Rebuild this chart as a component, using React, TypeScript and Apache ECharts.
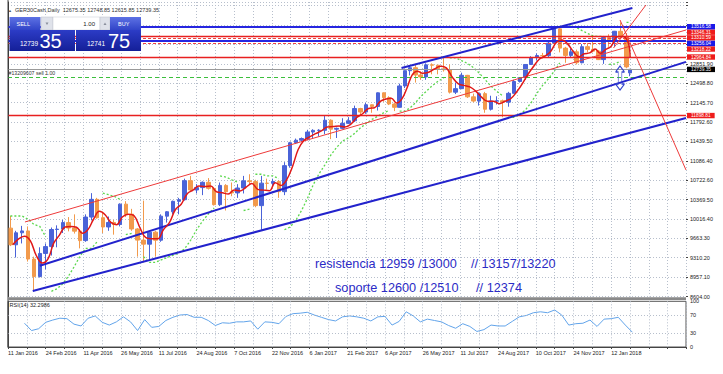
import React, { useEffect, useRef } from 'react';
import * as echarts from 'echarts';

// ---------- data ----------
const dateLabels = ['11 Jan 2016', '24 Feb 2016', '11 Apr 2016', '26 May 2016', '11 Jul 2016', '24 Aug 2016', '7 Oct 2016', '22 Nov 2016', '6 Jan 2017', '21 Feb 2017', '6 Apr 2017', '26 May 2017', '11 Jul 2017', '24 Aug 2017', '10 Oct 2017', '24 Nov 2017', '12 Jan 2018'];
const labelDates = ['2016-01-11', '2016-02-24', '2016-04-11', '2016-05-26', '2016-07-11', '2016-08-24', '2016-10-07', '2016-11-22', '2017-01-06', '2017-02-21', '2017-04-06', '2017-05-26', '2017-07-11', '2017-08-24', '2017-10-10', '2017-11-24', '2018-01-12'];
const barsPerLabel = 32;

const priceTickLabels = ['8604.00', '8957.10', '9310.20', '9663.30', '10016.40', '10369.50', '10722.60', '11086.40', '11439.50', '11792.60', '12145.70', '12498.80', '12851.90'];
const priceMin = 8604;
const priceStep = 353.1;
const priceMax = 13966.8;

const firstWeekMonday = '2016-01-11';
const lastBarDate = '2018-02-05';

const weekOpen = [9849, 9545, 9764, 9798, 9286, 8967, 9388, 9513, 9824, 9831, 9950, 9851, 9794, 9622, 10051, 10373, 10039, 9870, 9952, 9916, 10286, 10103, 9834, 9631, 9557, 9776, 9629, 10067, 10147, 10337, 10367, 10713, 10544, 10587, 10684, 10573, 10276, 10627, 10511, 10490, 10580, 10710, 10696, 10259, 10668, 10664, 10700, 10513, 10987, 11404, 11450, 11481, 11599, 11629, 11630, 11814, 11651, 11666, 11757, 11804, 12027, 11963, 12095, 12064, 12313, 12225, 12109, 12049, 12438, 12716, 12770, 12638, 12602, 12823, 12816, 12753, 12733, 12325, 12389, 12631, 12240, 12163, 12298, 12014, 12165, 12168, 12143, 12304, 12519, 12592, 12829, 12955, 12992, 12991, 13217, 13478, 13127, 12994, 13060, 12861, 13153, 13104, 13072, 12918, 13319, 13245, 13434, 13340, 12675.35];
const weekHigh = [10070, 9800, 9890, 9880, 9330, 9500, 9570, 9860, 9900, 10000, 10050, 10100, 9830, 10100, 10486, 10400, 10150, 10060, 10000, 10300, 10340, 10200, 9850, 10350, 9800, 9800, 10100, 10160, 10350, 10400, 10750, 10800, 10650, 10700, 10760, 10600, 10680, 10650, 10680, 10650, 10800, 10830, 10730, 10800, 10750, 10750, 10720, 11050, 11420, 11480, 11500, 11640, 11650, 11650, 11890, 11830, 11680, 11850, 11870, 12080, 12040, 12130, 12100, 12320, 12320, 12250, 12130, 12480, 12720, 12800, 12841, 12700, 12850, 12850, 12820, 12951, 12830, 12500, 12680, 12640, 12300, 12320, 12330, 12260, 12250, 12190, 12330, 12550, 12600, 12830, 12980, 13030, 13040, 13240, 13480, 13525, 13150, 13120, 13100, 13200, 13220, 13340, 13090, 13320, 13380, 13440, 13596, 13400, 12748.85];
const weekLow = [9522, 9314, 9570, 9240, 8699, 8950, 9100, 9350, 9500, 9760, 9790, 9750, 9480, 9600, 9990, 10020, 9760, 9800, 9730, 9880, 10050, 9800, 9330, 9225, 9270, 9330, 9600, 9950, 10100, 10100, 10350, 10520, 10480, 10450, 10550, 10260, 10250, 10170, 10430, 10400, 10480, 10650, 10230, 9820, 10550, 10620, 10400, 10450, 10950, 11380, 11420, 11450, 11480, 11520, 11560, 11470, 11490, 11650, 11750, 11780, 11900, 11930, 11950, 11990, 12150, 12090, 11980, 12040, 12400, 12630, 12500, 12550, 12550, 12650, 12650, 12700, 12300, 12290, 12380, 12220, 12140, 12080, 11950, 11990, 12100, 11868, 12060, 12300, 12500, 12550, 12820, 12900, 12940, 12950, 13200, 13050, 12860, 12950, 12830, 12850, 13050, 13050, 12910, 12840, 13150, 13150, 13300, 12760, 12615.85];
const weekClose = [9545, 9764, 9798, 9286, 8967, 9388, 9513, 9824, 9831, 9950, 9851, 9794, 9622, 10051, 10373, 10039, 9870, 9952, 9916, 10286, 10103, 9834, 9631, 9557, 9776, 9629, 10067, 10147, 10337, 10367, 10713, 10544, 10587, 10684, 10573, 10276, 10627, 10511, 10490, 10580, 10710, 10696, 10259, 10668, 10664, 10700, 10513, 10987, 11404, 11450, 11481, 11599, 11629, 11630, 11814, 11651, 11666, 11757, 11804, 12027, 11963, 12095, 12064, 12313, 12225, 12109, 12049, 12438, 12716, 12770, 12638, 12602, 12823, 12816, 12753, 12733, 12325, 12389, 12631, 12240, 12163, 12298, 12014, 12165, 12168, 12143, 12304, 12519, 12592, 12829, 12955, 12992, 12991, 13217, 13478, 13127, 12994, 13060, 12861, 13153, 13104, 13072, 12918, 13319, 13245, 13434, 13340, 12785, 12739.35];

const rsiStartBar = 14;
const rsiStep = 6;
const rsiValues = [52, 36, 40, 54, 59, 63, 62, 50, 46, 63, 68, 54, 48, 55, 66, 55, 36, 60, 43, 45, 58, 65, 70, 71, 65, 65, 58, 47, 53, 52, 55, 55, 57, 39, 55, 54, 51, 67, 73, 74, 76, 70, 65, 60, 57, 66, 68, 66, 63, 57, 66, 67, 48, 56, 77, 68, 55, 61, 58, 55, 47, 41, 51, 45, 34, 38, 48, 46, 46, 56, 66, 69, 75, 77, 75, 81, 70, 48, 51, 52, 59, 45, 61, 62, 65, 48, 32.3];

const blueLevels = [13516.58, 13256.04];
const redSolidLevels = [13346.31, 12964.84, 11898.81];
const redDashedLevels = [13310.59, 13218.22];
const bidPrice = 12739.35;
const orderPrice = 12590;
const bidAsk = { bid: '12739', bidPips: '35', ask: '12741', askPips: '75', lot: '1.00' };
const titleText = 'GER30Cash,Daily  12675.35 12748.85 12615.85 12739.35';
const rsiText = 'RSI(14) 32.2986';
const orderText = '#13209607 sell 1.00';
const resistText = 'resistencia 12959 /13000    // 13157/13220';
const supportText = 'soporte 12600 /12510     // 12374';

// trend lines as [bar, price] pairs
const blueTrendLines = [
  [[334, 12765], [530, 13858]],
  [[27, 9165], [575.5, 12876]],
  [[21, 8704], [575.5, 11855]],
];
const redTrendLines = [
  [[14.4, 9961], [575.5, 13457]],
  [[519.5, 13639], [575.5, 10908]],
  [[514, 13129], [541.5, 13912]],
];
const arrowAt = [519.5, 12583];

// ---------- helpers ----------
const DAY = 86400000;
const toUTC = (s: string) => { const [y, m, d] = s.split('-').map(Number); return Date.UTC(y, m - 1, d); };
const weekdays = (a: number, b: number) => { let n = 0; for (let t = a; t < b; t += DAY) { const wd = new Date(t).getUTCDay(); if (wd !== 0 && wd !== 6) n++; } return n; };
const anchors = labelDates.map(toUTC);
const barOf = (t: number) => {
  const last = anchors.length - 1;
  if (t >= anchors[last]) return barsPerLabel * last + weekdays(anchors[last], t);
  let k = 0;
  while (k < last - 1 && t >= anchors[k + 1]) k++;
  return barsPerLabel * k + (barsPerLabel * weekdays(anchors[k], t)) / weekdays(anchors[k], anchors[k + 1]);
};

function psar(h: number[], l: number[], step = 0.04, maxAf = 0.2) {
  const out: { v: number; up: boolean }[] = [];
  let up = false; let af = step; let ep = l[0]; let sar = h[0];
  out.push({ v: sar, up });
  for (let i = 1; i < h.length; i++) {
    sar = sar + af * (ep - sar);
    if (up) {
      sar = Math.min(sar, l[i - 1], i > 1 ? l[i - 2] : l[i - 1]);
      if (l[i] < sar) { up = false; sar = ep; ep = l[i]; af = step; }
      else if (h[i] > ep) { ep = h[i]; af = Math.min(af + step, maxAf); }
    } else {
      sar = Math.max(sar, h[i - 1], i > 1 ? h[i - 2] : h[i - 1]);
      if (h[i] > sar) { up = true; sar = ep; ep = h[i]; af = step; }
      else if (l[i] < ep) { ep = l[i]; af = Math.min(af + step, maxAf); }
    }
    out.push({ v: sar, up });
  }
  return out;
}

const FONT = '"Liberation Sans", Arial, sans-serif';

export default function App() {
  const ref = useRef<HTMLDivElement>(null);
  useEffect(() => {
    if (!ref.current) return;
    const chart = echarts.init(ref.current, undefined, { renderer: 'svg' });

    const mon0 = toUTC(firstWeekMonday);
    const lastT = toUTC(lastBarDate);
    const xC = weekOpen.map((_, w) => barOf(Math.min(mon0 + (7 * w + 2) * DAY, lastT)));
    const xF = weekOpen.map((_, w) => barOf(Math.min(mon0 + (7 * w + 4) * DAY, lastT)));

    const candleData = weekOpen.map((o, w) => [xC[w], o, weekClose[w], weekLow[w], weekHigh[w]]);
    const maData = weekClose.map((_, w) => {
      const s = weekClose.slice(Math.max(0, w - 2), w + 1);
      return [xF[w], s.reduce((a, b) => a + b, 0) / s.length];
    });
    const sar = psar(weekHigh, weekLow);
    const psarData: any[] = [];
    sar.forEach((p, i) => {
      if (i > 0 && p.up !== sar[i - 1].up) psarData.push([(xC[i - 1] + xC[i]) / 2, null]);
      psarData.push([xC[i], p.v]);
    });
    const rsiData = rsiValues.map((v, i) => [rsiStartBar + rsiStep * i, v]);

    // px shifts so the stacked price tags on the right axis do not cover each other
    const tagShift: Record<string, number> = { '13346.31': -3.9, '13310.59': -0.2, '13256.04': 2.4, '13218.22': 5.9 };

    const gridLine = { color: '#b7bfcc', type: [1, 2], width: 1 };
    const lab = (v: number, bg: string) => ({
      show: true, position: 'end', formatter: v.toFixed(2), backgroundColor: bg, color: '#fff',
      fontSize: 4.8, fontFamily: FONT, padding: [0.2, 4, 0.2, 4], lineHeight: 5, distance: 1,
      offset: [0, tagShift[v.toFixed(2)] || 0],
    });
    const hLine = (v: number, color: string, width: number, type: any, bg: string | null) => ({
      yAxis: v, lineStyle: { color, width, type },
      label: bg ? lab(v, bg) : { show: false },
    });
    const seg = (pair: number[][], color: string, width: number) => [
      { coord: pair[0], lineStyle: { color, width, type: 'solid' }, label: { show: false } },
      { coord: pair[1], lineStyle: { color, width, type: 'solid' }, label: { show: false } },
    ];

    const markLines: any[] = [
      ...redDashedLevels.map((v) => hLine(v, '#ee4444', 1, [3, 2], '#ee1c1c')),
      ...redSolidLevels.map((v) => hLine(v, '#e82020', 1.3, 'solid', '#ee1c1c')),
      ...blueLevels.map((v) => hLine(v, '#2626e0', 2, 'solid', '#1818e8')),
      hLine(bidPrice, '#9a9a9a', 1, 'solid', '#000000'),
      hLine(orderPrice, '#3cbf3c', 1, [4, 3], null),
      ...blueTrendLines.map((p) => seg(p, '#2222cc', 2)),
      ...redTrendLines.map((p) => seg(p, '#ee3a3a', 1)),
    ];

    const blueGrad = (a: string, b: string) => new echarts.graphic.LinearGradient(0, 0, 0, 1, [{ offset: 0, color: a }, { offset: 1, color: b }]);
    const txt = (text: string, x: number, y: number, size: number, fill: string, extra: any = {}) => ({
      type: 'text', x, y, z: 101, silent: true,
      style: { text, fill, fontSize: size, fontFamily: FONT, verticalAlign: 'middle', align: 'left', ...extra },
    });

    const option: any = {
      animation: false,
      backgroundColor: '#ffffff',
      grid: [
        { left: 8, top: 2, width: 678, height: 294.5, show: false },
        { left: 8, top: 301.3, width: 678, height: 45.7, show: true, borderColor: '#555', borderWidth: 1 },
      ],
      xAxis: [
        {
          type: 'value', gridIndex: 0, min: 0, max: 575.5, interval: 16,
          axisLine: { show: false }, axisTick: { show: false }, axisLabel: { show: false },
          splitLine: { show: true, lineStyle: gridLine },
        },
        {
          type: 'value', gridIndex: 1, min: 0, max: 575.5, interval: 16,
          axisLine: { show: true, lineStyle: { color: '#444' } },
          axisTick: { show: true, length: 2, lineStyle: { color: '#444' } },
          axisLabel: {
            show: true, align: 'left', margin: 3, fontSize: 5.5, color: '#222', fontFamily: FONT,
            formatter: (v: number) => { const k = v / barsPerLabel; return Number.isInteger(k) && k < dateLabels.length ? dateLabels[k] : ''; },
          },
          splitLine: { show: true, lineStyle: gridLine },
        },
      ],
      yAxis: [
        {
          type: 'value', gridIndex: 0, position: 'right', min: priceMin, max: priceMax,
          axisLine: { show: true, lineStyle: { color: '#333' } }, axisTick: { show: false },
          axisLabel: { show: false }, splitLine: { show: false },
        },
        {
          type: 'value', gridIndex: 0, position: 'right', min: 0, max: (priceMax - priceMin) / priceStep, interval: 1,
          axisLine: { show: false }, axisTick: { show: true, length: 2, lineStyle: { color: '#444' } },
          axisLabel: {
            show: true, margin: 4, fontSize: 5.5, color: '#222', fontFamily: FONT,
            formatter: (v: number) => { const i = Math.round(v); return Math.abs(v - i) < 1e-6 && i < priceTickLabels.length ? priceTickLabels[i] : ''; },
          },
          splitLine: { show: true, lineStyle: gridLine },
        },
        {
          type: 'value', gridIndex: 1, position: 'right', min: 0, max: 100, interval: 10,
          axisLine: { show: true, lineStyle: { color: '#444' } }, axisTick: { show: false },
          axisLabel: {
            show: true, margin: 4, fontSize: 5.5, color: '#222', fontFamily: FONT,
            formatter: (v: number) => ([0, 30, 70, 100].includes(v) ? String(v) : ''),
          },
          splitLine: { show: false },
        },
      ],
      series: [
        {
          type: 'candlestick', xAxisIndex: 0, yAxisIndex: 0, data: candleData, barWidth: 4, z: 3,
          itemStyle: { color: '#4a63d8', color0: '#f29a4c', borderColor: '#4a63d8', borderColor0: '#f29a4c', borderWidth: 1 },
          markLine: { silent: true, animation: false, symbol: ['none', 'none'], label: { show: false }, data: markLines },
          markPoint: {
            silent: true, animation: false,
            data: [{
              coord: arrowAt, symbol: 'path://M5 0L10 6L7 6L7 18L10 18L5 24L0 18L3 18L3 6L0 6Z', symbolSize: [9, 24],
              itemStyle: { color: 'rgba(255,255,255,0)', borderColor: '#3344cc', borderWidth: 1 }, label: { show: false },
            }],
          },
        },
        {
          type: 'line', xAxisIndex: 0, yAxisIndex: 0, data: maData, showSymbol: false, smooth: 0.4, z: 5,
          lineStyle: { color: '#e01818', width: 1.5 },
        },
        {
          type: 'line', xAxisIndex: 0, yAxisIndex: 0, data: psarData, showSymbol: false, connectNulls: false, z: 4,
          lineStyle: { color: '#5cd84e', width: 1.3, type: [2, 2] },
        },
        {
          type: 'line', xAxisIndex: 1, yAxisIndex: 2, data: rsiData, showSymbol: false, z: 4,
          lineStyle: { color: '#62a4ea', width: 1 },
          markLine: {
            silent: true, animation: false, symbol: ['none', 'none'], label: { show: false },
            lineStyle: gridLine, data: [{ yAxis: 30 }, { yAxis: 70 }],
          },
        },
      ],
      graphic: [
        { type: 'line', z: 100, silent: true, shape: { x1: 8, y1: 0, x2: 8, y2: 347 }, style: { stroke: '#444', lineWidth: 1 } },
        { type: 'rect', z: 100, silent: true, shape: { x: 8, y: 297.3, width: 678, height: 2.7 }, style: { fill: '#8a8a8a' } },
        txt('▲', 8, 10, 4, '#555'),
        txt(titleText, 15, 10, 5.5, '#333'),
        txt(orderText, 8.5, 72.5, 5.2, '#333'),
        txt(rsiText, 9.5, 305, 5.5, '#222'),
        // one-click trading panel
        { type: 'rect', z: 100, silent: true, shape: { x: 9.5, y: 17, width: 31, height: 13 }, style: { fill: blueGrad('#5d72e4', '#3144c8') } },
        { type: 'rect', z: 100, silent: true, shape: { x: 41, y: 17, width: 12, height: 13 }, style: { fill: '#dfe2ea', stroke: '#b8bcc8', lineWidth: 0.5 } },
        { type: 'polygon', z: 101, silent: true, shape: { points: [[45.5, 22.5], [48.5, 22.5], [47, 25]] }, style: { fill: '#8a8f9c' } },
        { type: 'rect', z: 100, silent: true, shape: { x: 53, y: 17, width: 47, height: 13 }, style: { fill: '#ffffff', stroke: '#c4c8d2', lineWidth: 0.5 } },
        txt(bidAsk.lot, 95, 24, 6, '#222', { align: 'right' }),
        { type: 'rect', z: 100, silent: true, shape: { x: 100, y: 17, width: 10, height: 13 }, style: { fill: '#dfe2ea', stroke: '#b8bcc8', lineWidth: 0.5 } },
        { type: 'polygon', z: 101, silent: true, shape: { points: [[103.5, 25], [106.5, 25], [105, 22.5]] }, style: { fill: '#8a8f9c' } },
        { type: 'rect', z: 100, silent: true, shape: { x: 110, y: 17, width: 31, height: 13 }, style: { fill: blueGrad('#5d72e4', '#3144c8') } },
        txt('SELL', 16.5, 24, 5.5, '#fff'),
        txt('BUY', 118, 24, 5.5, '#fff'),
        { type: 'rect', z: 100, silent: true, shape: { x: 9.5, y: 30, width: 65.5, height: 21 }, style: { fill: blueGrad('#2c3cc6', '#141f98') } },
        { type: 'rect', z: 100, silent: true, shape: { x: 76, y: 30, width: 65, height: 21 }, style: { fill: blueGrad('#2c3cc6', '#141f98') } },
        txt(bidAsk.bid, 20, 43.5, 6.5, '#fff'),
        txt(bidAsk.bidPips, 39.5, 40.5, 20, '#fff'),
        txt(bidAsk.ask, 87, 43.5, 6.5, '#fff'),
        txt(bidAsk.askPips, 108, 40.5, 20, '#fff'),
        // annotations
        txt(resistText, 315, 263.5, 12.7, '#2b2bc6'),
        txt(supportText, 335, 287.7, 12.7, '#2b2bc6'),
      ],
    };
    chart.setOption(option);
    return () => chart.dispose();
  }, []);
  return <div ref={ref} style={{ position: 'fixed', left: 0, top: 0, width: 723, height: 374, background: '#fff' }} />;
}
